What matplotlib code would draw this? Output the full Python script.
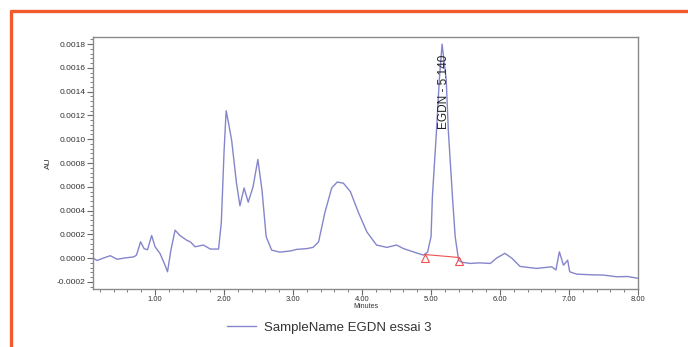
import matplotlib
matplotlib.use("Agg")
import matplotlib.pyplot as plt
import matplotlib.transforms as mtransforms
from matplotlib.lines import Line2D
from matplotlib.ticker import MultipleLocator, FormatStrFormatter

plt.rcParams['font.family'] = ['Liberation Sans', 'DejaVu Sans']

# ---- data ----
time_min = [0.10, 0.16, 0.25, 0.35, 0.45, 0.55, 0.69, 0.73, 0.79, 0.84, 0.89, 0.95,
            1.00, 1.07, 1.13, 1.18, 1.23, 1.29, 1.36, 1.46, 1.51, 1.58, 1.70, 1.80,
            1.92, 1.96, 2.00, 2.03, 2.07, 2.11, 2.18, 2.23, 2.29, 2.35, 2.42, 2.49,
            2.55, 2.61, 2.69, 2.81, 2.96, 3.05, 3.20, 3.29, 3.37, 3.46, 3.56, 3.64,
            3.73, 3.83, 3.95, 4.07, 4.21, 4.36, 4.50, 4.60, 4.74, 4.89, 4.95, 5.00,
            5.02, 5.08, 5.12, 5.16, 5.22, 5.25, 5.31, 5.35, 5.40, 5.45, 5.57, 5.70,
            5.86, 5.95, 6.07, 6.17, 6.29, 6.53, 6.75, 6.81, 6.86, 6.92, 6.98, 7.01,
            7.11, 7.30, 7.50, 7.69, 7.85, 8.00]
au_e4 = [0.0, -0.2, 0.0, 0.2, -0.1, 0.0, 0.1, 0.25, 1.37, 0.8, 0.7, 1.9,
         0.95, 0.4, -0.4, -1.15, 0.7, 2.35, 1.9, 1.5, 1.37, 0.95, 1.1, 0.76,
         0.76, 3.0, 9.0, 12.4, 11.2, 9.9, 6.3, 4.4, 5.9, 4.7, 6.0, 8.3,
         5.7, 1.8, 0.67, 0.5, 0.6, 0.73, 0.8, 0.9, 1.37, 3.8, 5.9, 6.4,
         6.3, 5.6, 3.8, 2.2, 1.1, 0.9, 1.1, 0.8, 0.53, 0.25, 0.5, 1.8,
         5.2, 10.8, 15.0, 18.0, 15.0, 10.8, 5.2, 1.8, -0.2, -0.35, -0.45, -0.4,
         -0.45, 0.0, 0.4, 0.0, -0.7, -0.87, -0.73, -1.0, 0.53, -0.6, -0.17, -1.15,
         -1.35, -1.4, -1.43, -1.57, -1.55, -1.7]
au = [v * 1e-4 for v in au_e4]

baseline_t = [4.91, 5.41]
baseline_au = [0.3e-4, 0.05e-4]

peak_name = "EGDN"
peak_rt = 5.140
peak_apex_t = 5.16
label_au = 0.00140

xticks = [1, 2, 3, 4, 5, 6, 7, 8]
yticks = [-0.0002, 0.0, 0.0002, 0.0004, 0.0006, 0.0008, 0.0010, 0.0012, 0.0014, 0.0016, 0.0018]
series_name = "SampleName EGDN essai 3"

# ---- figure ----
W, H = 688, 347
fig = plt.figure(figsize=(W / 100, H / 100), dpi=100)
ax = fig.add_axes([93 / W, 1 - 289 / H, (638 - 93) / W, (289 - 37) / H])

line_color = '#8585cc'
ax.plot(time_min, au, color=line_color, lw=1.0)

ax.plot(baseline_t, baseline_au, color='#f05050', lw=0.8)
tri_tr = mtransforms.offset_copy(ax.transData, fig=fig, x=0, y=-3.5, units='dots')
ax.plot(baseline_t, baseline_au, ls='none', marker='^', ms=6, mfc='none',
        mec='#f05050', mew=0.8, transform=tri_tr)

lbl_tr = mtransforms.offset_copy(ax.transData, fig=fig, x=2, y=0, units='dots')
ax.text(peak_apex_t, label_au, f"{peak_name} - {peak_rt:.3f}", rotation=90,
        ha='center', va='center', fontsize=8.5, color='#222222', transform=lbl_tr)

ax.set_xlim(0.1, 8.0)
ax.set_ylim(-0.00026, 0.00186)
ax.set_xticks(xticks)
ax.set_yticks(yticks)
ax.xaxis.set_major_formatter(FormatStrFormatter('%.2f'))
ax.yaxis.set_major_formatter(FormatStrFormatter('%.4f'))
ax.xaxis.set_minor_locator(MultipleLocator(0.2))
ax.yaxis.set_minor_locator(MultipleLocator(0.00004))

for s in ax.spines.values():
    s.set_color('#8a8a8a')
    s.set_linewidth(1.0)
ax.tick_params(which='major', direction='out', length=4, width=0.8, color='#6a6a6a',
               labelsize=5.5, labelcolor='#333333', pad=1.5)
ax.tick_params(which='minor', direction='out', length=2, width=0.6, color='#6a6a6a')
ax.tick_params(axis='y', labelsize=6)
ax.tick_params(axis='x', pad=1.0)

ax.set_xlabel("Minutes", fontsize=5, color='#333333', labelpad=0)
ax.set_ylabel("AU", fontsize=6, color='#333333', labelpad=3)

handle = Line2D([], [], color=line_color, lw=1.0)
fig.legend([handle], [series_name], loc='center', bbox_to_anchor=(0.478, 0.055),
           frameon=False, fontsize=9.5, handlelength=2.2, handletextpad=0.6,
           labelcolor='#333333')

# orange frame (top and left edges)
orange = '#f25a2b'
fig.add_artist(Line2D([10 / W, 1.0], [1 - 11 / H, 1 - 11 / H], transform=fig.transFigure,
                      color=orange, lw=2.4, solid_capstyle='butt'))
fig.add_artist(Line2D([11 / W, 11 / W], [1 - 10 / H, 0.0], transform=fig.transFigure,
                      color=orange, lw=2.4, solid_capstyle='butt'))

fig.savefig("out.png", dpi=100)
